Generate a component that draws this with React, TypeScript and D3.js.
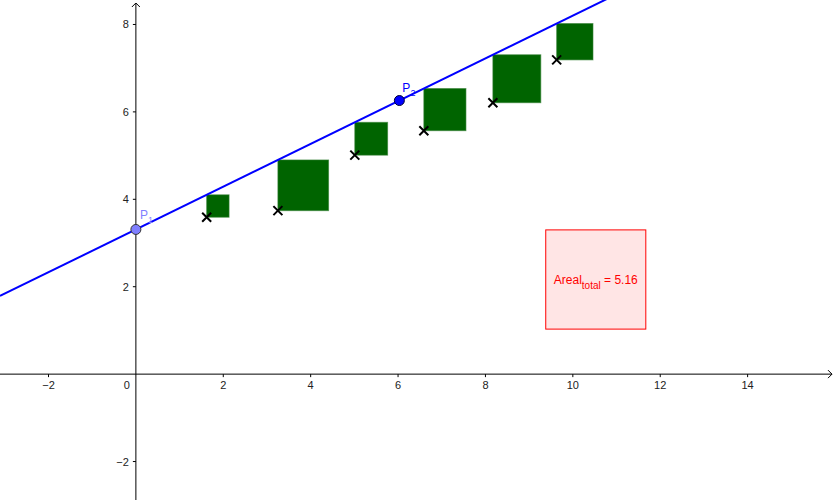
import React, { useRef, useEffect } from 'react';
import * as d3 from 'd3';

// data points (crosses)
const pointX = [1.62, 3.25, 5.01, 6.59, 8.17, 9.63];
const pointY = [3.59, 3.74, 5.01, 5.57, 6.21, 7.19];

// line through P1 and P2
const p1 = [0, 3.31];
const p2 = [6.03, 6.26];

const xTicks = [-2, 2, 4, 6, 8, 10, 12, 14];
const yTicks = [-2, 2, 4, 6, 8];

const areaLabel = '5.16';
// corners of the text box, in axis units
const boxCorner = [9.38, 3.3];
const boxCorner2 = [11.67, 1.03];

const W = 835;
const H = 500;

const App = () => {
  const svgRef = useRef<SVGSVGElement>(null);

  useEffect(() => {
    const svg = d3.select(svgRef.current);
    svg.selectAll('*').remove();

    const x = d3.scaleLinear().domain([-3.11, 16.0]).range([0, W]);
    const y = d3.scaleLinear().domain([-2.88, 8.56]).range([H, 0]);

    const slope = (p2[1] - p1[1]) / (p2[0] - p1[0]);
    const lineY = (v: number) => p1[1] + slope * (v - p1[0]);

    const font = 'Liberation Sans, Arial, sans-serif';

    // axes
    const x0 = x(0);
    const y0 = y(0);
    svg.append('line').attr('x1', 0).attr('x2', W - 3).attr('y1', y0).attr('y2', y0)
      .attr('stroke', '#000').attr('stroke-width', 1);
    svg.append('path').attr('d', `M${W - 7},${y0 - 4}L${W - 3},${y0}L${W - 7},${y0 + 4}`)
      .attr('fill', 'none').attr('stroke', '#000');
    svg.append('line').attr('x1', x0).attr('x2', x0).attr('y1', 3).attr('y2', H)
      .attr('stroke', '#000').attr('stroke-width', 1);
    svg.append('path').attr('d', `M${x0 - 4},${7}L${x0},${3}L${x0 + 4},${7}`)
      .attr('fill', 'none').attr('stroke', '#000');

    // x ticks
    xTicks.forEach(t => {
      svg.append('line').attr('x1', x(t)).attr('x2', x(t)).attr('y1', y0).attr('y2', y0 + 3)
        .attr('stroke', '#000');
      svg.append('text').attr('x', x(t)).attr('y', y0 + 15).attr('text-anchor', 'middle')
        .attr('font-family', font).attr('font-size', 11).attr('fill', '#222')
        .text(t < 0 ? `\u2212${-t}` : `${t}`);
    });
    svg.append('text').attr('x', x0 - 9).attr('y', y0 + 15).attr('text-anchor', 'middle')
      .attr('font-family', font).attr('font-size', 11).attr('fill', '#222').text('0');

    // y ticks
    yTicks.forEach(t => {
      svg.append('line').attr('x1', x0 - 3).attr('x2', x0).attr('y1', y(t)).attr('y2', y(t))
        .attr('stroke', '#000');
      svg.append('text').attr('x', x0 - 7).attr('y', y(t) + 4).attr('text-anchor', 'end')
        .attr('font-family', font).attr('font-size', 11).attr('fill', '#222')
        .text(t < 0 ? `\u2212${-t}` : `${t}`);
    });

    // residual squares
    pointX.forEach((px, i) => {
      const py = pointY[i];
      const side = lineY(px) - py;
      svg.append('rect')
        .attr('x', x(px)).attr('y', y(py + side))
        .attr('width', x(px + side) - x(px)).attr('height', y(py) - y(py + side))
        .attr('fill', '#006400').attr('stroke', '#2e7d2e').attr('stroke-opacity', 0.6)
        .attr('stroke-width', 1);
    });

    // regression line
    const [d0, d1] = x.domain();
    svg.append('path')
      .datum([d0, d1])
      .attr('fill', 'none').attr('stroke', '#0000ff').attr('stroke-width', 2)
      .attr('d', d3.line<number>().x(v => x(v)).y(v => y(lineY(v))));

    // crosses
    pointX.forEach((px, i) => {
      const cx = x(px);
      const cy = y(pointY[i]);
      const s = 4.5;
      svg.append('path')
        .attr('d', `M${cx - s},${cy - s}L${cx + s},${cy + s}M${cx - s},${cy + s}L${cx + s},${cy - s}`)
        .attr('stroke', '#000').attr('stroke-width', 2).attr('fill', 'none');
    });

    // P1, P2
    svg.append('circle').attr('cx', x(p1[0])).attr('cy', y(p1[1])).attr('r', 5)
      .attr('fill', '#7f7fff').attr('stroke', '#333').attr('stroke-width', 1);
    svg.append('circle').attr('cx', x(p2[0])).attr('cy', y(p2[1])).attr('r', 5)
      .attr('fill', '#0000ff').attr('stroke', '#000033').attr('stroke-width', 1);

    const pLabel = (px: number, py: number, sub: string, color: string) => {
      const t = svg.append('text').attr('x', px).attr('y', py)
        .attr('font-family', font).attr('font-size', 12).attr('fill', color);
      t.append('tspan').text('P');
      t.append('tspan').attr('dy', 4).attr('font-size', 9).text(sub);
    };
    pLabel(x(p1[0]) + 4, y(p1[1]) - 10, '1', '#7f7fff');
    pLabel(x(p2[0]) + 3, y(p2[1]) - 9, '2', '#0000ff');

    // total area box
    const bx = x(boxCorner[0]);
    const by = y(boxCorner[1]);
    const bw = x(boxCorner2[0]) - bx;
    const bh = y(boxCorner2[1]) - by;
    svg.append('rect').attr('x', bx).attr('y', by).attr('width', bw).attr('height', bh)
      .attr('fill', '#ffe5e5').attr('stroke', '#ff0000').attr('stroke-width', 1);
    const at = svg.append('text').attr('x', bx + bw / 2).attr('y', by + bh / 2 + 4)
      .attr('text-anchor', 'middle').attr('font-family', font).attr('font-size', 12)
      .attr('fill', '#ff0000');
    at.append('tspan').text('Areal');
    at.append('tspan').attr('dy', 5).attr('font-size', 10).text('total');
    at.append('tspan').attr('dy', -5).text(` = ${areaLabel}`);
  }, []);

  return (
    <svg ref={svgRef} width={W} height={H}
      style={{ position: 'absolute', left: 0, top: 0, background: '#fff' }} />
  );
};

export default App;
